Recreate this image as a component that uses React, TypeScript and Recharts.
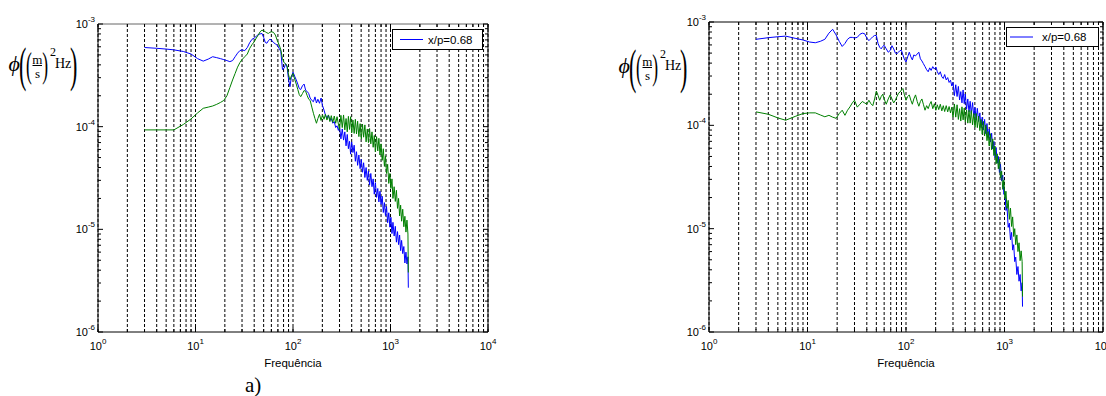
import React from 'react';
import { LineChart, Line, XAxis, YAxis, CartesianGrid } from 'recharts';

// Frequency grid (Hz), shared by both panels
const freq = [
  3, 4, 5, 6, 7.5, 9, 10.5, 12, 13.5, 15, 16.5, 18, 19.5, 21, 22.5, 24, 25.5, 27, 28.5, 30,
  32, 34, 36, 38, 40, 42, 44, 46, 48, 50, 52, 54, 56, 58, 60, 63, 66, 69, 72, 75,
  78, 81, 84, 87, 90, 93, 96, 100,
  104, 108, 112, 116, 120, 125, 130, 135, 140, 145, 150, 156, 162, 168, 174, 180, 187, 194, 201, 208,
  215, 223, 231, 239, 247, 256, 265, 274, 283, 292,
  300, 310, 320, 330, 340, 350, 360, 370, 380, 390, 400, 412, 424, 436, 448, 460, 474, 488, 502, 516,
  530, 546, 562, 578, 594, 610, 628, 646, 664, 682, 700, 720, 740, 760, 780, 800, 822, 844, 866, 888,
  910, 935, 960, 985, 1010, 1035, 1060, 1090, 1120, 1150, 1180, 1210, 1240, 1270, 1300, 1335, 1370, 1405, 1440, 1475,
  1510, 1524,
];

// Panel a) — blue series (x/p=0.68)
const blueA = [
  5.9e-4, 5.8e-4, 5.7e-4, 5.6e-4, 5.4e-4, 5.1e-4, 4.6e-4, 4.35e-4, 4.55e-4, 4.8e-4, 4.7e-4, 4.6e-4, 4.5e-4, 4.4e-4, 4.3e-4, 4.4e-4, 4.8e-4, 5.2e-4, 5.5e-4, 5.6e-4,
  5.5e-4, 5.9e-4, 6.6e-4, 7.1e-4, 7.3e-4, 7.6e-4, 7.9e-4, 8.0e-4, 8.1e-4, 7.4e-4, 6.6e-4, 6.5e-4, 6.9e-4, 7.1e-4, 7.0e-4, 6.6e-4, 6.4e-4, 6.2e-4, 5.8e-4, 5.4e-4,
  3.6e-4, 3.7e-4, 4.1e-4, 3.8e-4, 2.9e-4, 2.45e-4, 3.0e-4, 3.4e-4,
  3.1e-4, 2.85e-4, 2.6e-4, 2.35e-4, 2.3e-4, 2.5e-4, 2.6e-4, 2.25e-4, 2.2e-4, 2.1e-4, 1.9e-4, 1.8e-4, 1.75e-4, 1.95e-4, 1.7e-4, 1.85e-4, 1.69e-4, 1.9e-4, 1.6e-4, 1.45e-4,
  1.3e-4, 1.21e-4, 1.3e-4, 1.15e-4, 1.2e-4, 1.08e-4, 1.12e-4, 9.8e-5, 1.02e-4, 9.2e-5,
  1.01e-4, 7.6e-5, 9.5e-5, 7.4e-5, 8.9e-5, 6.5e-5, 8.4e-5, 6.1e-5, 7.2e-5, 5.4e-5, 7.1e-5, 5.6e-5, 6.6e-5, 4.6e-5, 5.7e-5, 4.2e-5, 5.3e-5, 3.9e-5, 4.8e-5, 3.6e-5,
  4.45e-5, 3.2e-5, 4.0e-5, 3.0e-5, 3.7e-5, 2.7e-5, 3.5e-5, 2.6e-5, 3.1e-5, 2.2e-5, 2.85e-5, 2.05e-5, 2.5e-5, 1.85e-5, 2.35e-5, 1.75e-5, 2.1e-5, 1.46e-5, 1.82e-5, 1.36e-5,
  1.67e-5, 1.16e-5, 1.45e-5, 1.05e-5, 1.31e-5, 9.1e-6, 1.17e-5, 8.6e-6, 1.07e-5, 7.5e-6, 9.5e-6, 7.1e-6, 8.8e-6, 6.2e-6, 7.8e-6, 5.8e-6, 6.8e-6, 4.7e-6, 6.0e-6, 4.6e-6,
  5.4e-6, 2.7e-6,
];

// Panel a) — green series
const greenA = [
  9.3e-5, 9.3e-5, 9.3e-5, 9.3e-5, 1.05e-4, 1.19e-4, 1.36e-4, 1.51e-4, 1.55e-4, 1.59e-4, 1.65e-4, 1.72e-4, 1.8e-4, 2.0e-4, 2.4e-4, 2.85e-4, 3.3e-4, 3.8e-4, 4.2e-4, 4.5e-4,
  4.8e-4, 5.1e-4, 5.8e-4, 6.3e-4, 6.7e-4, 7.3e-4, 7.8e-4, 8.4e-4, 8.7e-4, 8.6e-4, 8.4e-4, 8.2e-4, 8.1e-4, 8.3e-4, 8.4e-4, 8.3e-4, 7.8e-4, 6.9e-4, 6.3e-4, 5.6e-4,
  4.6e-4, 4.2e-4, 4.1e-4, 3.9e-4, 3.2e-4, 2.85e-4, 3.1e-4, 3.3e-4,
  2.9e-4, 2.6e-4, 2.3e-4, 2.05e-4, 1.96e-4, 2.1e-4, 2.25e-4, 2.2e-4, 2.0e-4, 1.85e-4, 1.8e-4, 1.55e-4, 1.35e-4, 1.2e-4, 1.08e-4, 1.2e-4, 1.32e-4, 1.15e-4, 1.3e-4, 1.18e-4,
  1.32e-4, 1.16e-4, 1.3e-4, 1.12e-4, 1.28e-4, 1.1e-4, 1.27e-4, 1.08e-4, 1.25e-4, 1.06e-4,
  9.4e-5, 1.29e-4, 9.8e-5, 1.3e-4, 9.3e-5, 1.2e-4, 8.9e-5, 1.26e-4, 9.4e-5, 1.25e-4, 8.7e-5, 1.16e-4, 8.6e-5, 1.18e-4, 8.5e-5, 1.13e-4, 8.0e-5, 1.07e-4, 7.6e-5, 1.06e-4,
  7.9e-5, 1.04e-4, 7.1e-5, 9.5e-5, 7.0e-5, 9.6e-5, 6.8e-5, 8.9e-5, 6.3e-5, 8.2e-5, 5.7e-5, 8.0e-5, 5.8e-5, 7.7e-5, 5.3e-5, 6.8e-5, 4.7e-5, 6.1e-5, 4.1e-5, 5.2e-5,
  3.5e-5, 4.3e-5, 2.8e-5, 3.5e-5, 2.5e-5, 3.1e-5, 2.0e-5, 2.6e-5, 1.87e-5, 2.4e-5, 1.6e-5, 2.0e-5, 1.35e-5, 1.72e-5, 1.2e-5, 1.57e-5, 1.06e-5, 1.34e-5, 9.4e-6, 1.23e-5,
  9.0e-6, 3.8e-6,
];

// Panel b) — blue series (x/p=0.68)
const blueB = [
  6.8e-4, 7.05e-4, 7.2e-4, 7.3e-4, 6.95e-4, 6.7e-4, 6.4e-4, 6.3e-4, 6.5e-4, 6.8e-4, 7.8e-4, 8.5e-4, 7.5e-4, 6.5e-4, 5.8e-4, 6.2e-4, 6.8e-4, 7.1e-4, 7.1e-4, 7.0e-4,
  7.1e-4, 7.6e-4, 7.8e-4, 7.7e-4, 7.0e-4, 6.6e-4, 6.9e-4, 7.2e-4, 7.4e-4, 7.4e-4, 6.2e-4, 5.7e-4, 5.5e-4, 5.8e-4, 5.95e-4, 5.5e-4, 5.1e-4, 5.3e-4, 5.9e-4, 5.5e-4,
  5.0e-4, 4.95e-4, 5.1e-4, 5.3e-4, 5.3e-4, 4.8e-4, 4.4e-4, 4.1e-4,
  4.6e-4, 5.1e-4, 4.6e-4, 4.3e-4, 4.8e-4, 4.7e-4, 4.9e-4, 5.1e-4, 4.4e-4, 4.2e-4, 3.96e-4, 3.7e-4, 3.45e-4, 3.3e-4, 3.6e-4, 3.4e-4, 3.7e-4, 3.5e-4, 3.67e-4, 3.3e-4,
  3.1e-4, 3.3e-4, 2.95e-4, 2.84e-4, 3.1e-4, 2.75e-4, 2.9e-4, 2.6e-4, 2.73e-4, 2.4e-4,
  2.6e-4, 1.94e-4, 2.47e-4, 1.9e-4, 2.38e-4, 1.76e-4, 2.12e-4, 1.65e-4, 2.2e-4, 1.62e-4, 2.01e-4, 1.43e-4, 1.8e-4, 1.35e-4, 1.71e-4, 1.3e-4, 1.66e-4, 1.2e-4, 1.49e-4, 1.12e-4,
  1.46e-4, 1.09e-4, 1.32e-4, 9.5e-5, 1.2e-4, 9.0e-5, 1.14e-4, 8.3e-5, 1.04e-4, 7.6e-5, 9.2e-5, 6.9e-5, 8.4e-5, 5.9e-5, 7.0e-5, 4.9e-5, 6.1e-5, 4.3e-5, 5.0e-5, 3.5e-5,
  4.2e-5, 2.9e-5, 3.3e-5, 2.15e-5, 2.3e-5, 1.5e-5, 1.65e-5, 1.03e-5, 1.13e-5, 7.8e-6, 9.2e-6, 6.2e-6, 7.0e-6, 4.8e-6, 5.3e-6, 3.6e-6, 4.3e-6, 3.1e-6, 3.6e-6, 2.5e-6,
  3.0e-6, 1.76e-6,
];

// Panel b) — green series
const greenB = [
  1.35e-4, 1.28e-4, 1.18e-4, 1.12e-4, 1.22e-4, 1.3e-4, 1.32e-4, 1.32e-4, 1.26e-4, 1.21e-4, 1.25e-4, 1.2e-4, 1.17e-4, 1.3e-4, 1.4e-4, 1.25e-4, 1.4e-4, 1.51e-4, 1.65e-4, 1.75e-4,
  1.5e-4, 1.6e-4, 1.7e-4, 1.65e-4, 1.6e-4, 1.75e-4, 1.62e-4, 1.55e-4, 1.8e-4, 2.15e-4, 1.95e-4, 1.75e-4, 1.9e-4, 2.0e-4, 1.8e-4, 1.6e-4, 1.8e-4, 1.97e-4, 1.8e-4, 1.65e-4,
  1.75e-4, 1.9e-4, 2.05e-4, 2.1e-4, 2.2e-4, 2.27e-4, 2.0e-4, 1.75e-4,
  1.9e-4, 1.97e-4, 1.75e-4, 1.6e-4, 1.8e-4, 1.97e-4, 1.7e-4, 1.53e-4, 1.7e-4, 1.8e-4, 1.6e-4, 1.4e-4, 1.55e-4, 1.45e-4, 1.6e-4, 1.7e-4, 1.45e-4, 1.62e-4, 1.4e-4, 1.58e-4,
  1.42e-4, 1.6e-4, 1.38e-4, 1.55e-4, 1.36e-4, 1.55e-4, 1.35e-4, 1.52e-4, 1.32e-4, 1.5e-4,
  1.2e-4, 1.61e-4, 1.2e-4, 1.58e-4, 1.14e-4, 1.45e-4, 1.1e-4, 1.51e-4, 1.13e-4, 1.47e-4, 1.08e-4, 1.41e-4, 1.05e-4, 1.4e-4, 1.05e-4, 1.39e-4, 1.01e-4, 1.3e-4, 9.6e-5, 1.3e-4,
  9.5e-5, 1.23e-4, 8.9e-5, 1.14e-4, 8.2e-5, 1.09e-4, 7.9e-5, 1.01e-4, 7.1e-5, 8.7e-5, 6.3e-5, 8.3e-5, 5.8e-5, 7.4e-5, 5.1e-5, 6.3e-5, 4.25e-5, 5.3e-5, 3.8e-5, 4.7e-5,
  3.1e-5, 3.6e-5, 2.4e-5, 2.95e-5, 1.95e-5, 2.3e-5, 1.57e-5, 1.88e-5, 1.23e-5, 1.58e-5, 1.05e-5, 1.3e-5, 8.4e-6, 1.0e-5, 7.0e-6, 8.7e-6, 6.0e-6, 7.3e-6, 4.9e-6, 6.1e-6,
  4.8e-6, 2.2e-6,
];

// Axis ticks (log decades with minor ticks)
const xTicks = [
  1, 2, 3, 4, 5, 6, 7, 8, 9,
  10, 20, 30, 40, 50, 60, 70, 80, 90,
  100, 200, 300, 400, 500, 600, 700, 800, 900,
  1000, 2000, 3000, 4000, 5000, 6000, 7000, 8000, 9000,
  10000,
];
const yTicks = [
  1e-6, 2e-6, 3e-6, 4e-6, 5e-6, 6e-6, 7e-6, 8e-6, 9e-6,
  1e-5, 2e-5, 3e-5, 4e-5, 5e-5, 6e-5, 7e-5, 8e-5, 9e-5,
  1e-4, 2e-4, 3e-4, 4e-4, 5e-4, 6e-4, 7e-4, 8e-4, 9e-4,
  1e-3,
];
const xLabel = 'Frequência';
const legendLabel = 'x/p=0.68';
const panelLabel = 'a)';

const BLUE = '#0000ff';
const GREEN = '#008000';
const SANS = '"Liberation Sans", Arial, Helvetica, sans-serif';
const SERIF = '"Liberation Serif", "Times New Roman", serif';

const expOf = (v: number) => Math.round(Math.log10(v));
const isDecade = (v: number) => Math.abs(Math.log10(v) - expOf(v)) < 1e-6;

const BottomTick = (props: any) => {
  const { x, y, payload } = props;
  const v = payload.value;
  const major = isDecade(v);
  return (
    <g>
      <line x1={x} y1={y} x2={x} y2={y - (major ? 5 : 3)} stroke="#000" />
      {major && (
        <text x={x} y={y + 18} textAnchor="middle" fontFamily={SANS} fontSize={11} fill="#000">
          <tspan>10</tspan>
          <tspan dy={-6.5} fontSize={8}>{String(expOf(v))}</tspan>
        </text>
      )}
    </g>
  );
};

const TopTick = (props: any) => {
  const { x, y, payload } = props;
  const major = isDecade(payload.value);
  return <line x1={x} y1={y} x2={x} y2={y + (major ? 5 : 3)} stroke="#000" />;
};

const LeftTick = (props: any) => {
  const { x, y, payload } = props;
  const v = payload.value;
  const major = isDecade(v);
  return (
    <g>
      <line x1={x} y1={y} x2={x + (major ? 5 : 3)} y2={y} stroke="#000" />
      {major && (
        <text x={x - 3} y={y + 4} textAnchor="end" fontFamily={SANS} fontSize={11} fill="#000">
          <tspan>10</tspan>
          <tspan dy={-6} fontSize={8}>{String(expOf(v))}</tspan>
        </text>
      )}
    </g>
  );
};

const RightTick = (props: any) => {
  const { x, y, payload } = props;
  const major = isDecade(payload.value);
  return <line x1={x} y1={y} x2={x - (major ? 5 : 3)} y2={y} stroke="#000" />;
};

type PanelProps = {
  left: number;
  margin: { top: number; right: number; bottom: number; left: number };
  blue: number[];
  green: number[];
  topStroke: string;
};

const Panel = ({ left, margin, blue, green, topStroke }: PanelProps) => {
  const data = freq.map((f, i) => ({ f, blue: blue[i], green: green[i] }));
  return (
    <div style={{ position: 'absolute', left, top: 0 }}>
      <LineChart width={500} height={396} data={data} margin={margin}>
        <CartesianGrid horizontal={false} vertical stroke="#000" strokeDasharray="3 2" />
        <XAxis
          dataKey="f"
          type="number"
          scale="log"
          domain={[1, 10000]}
          allowDataOverflow
          ticks={xTicks}
          interval={0}
          height={30}
          tickSize={0}
          tickMargin={0}
          tickLine={false}
          stroke="#000"
          tick={<BottomTick />}
        />
        <XAxis
          xAxisId="top"
          orientation="top"
          dataKey="f"
          type="number"
          scale="log"
          domain={[1, 10000]}
          allowDataOverflow
          ticks={xTicks}
          interval={0}
          height={1}
          tickSize={0}
          tickMargin={0}
          tickLine={false}
          stroke={topStroke}
          tick={<TopTick />}
        />
        <YAxis
          type="number"
          scale="log"
          domain={[1e-6, 1e-3]}
          allowDataOverflow
          ticks={yTicks}
          interval={0}
          width={40}
          tickSize={0}
          tickMargin={0}
          tickLine={false}
          stroke="#000"
          tick={<LeftTick />}
        />
        <YAxis
          yAxisId="right"
          orientation="right"
          type="number"
          scale="log"
          domain={[1e-6, 1e-3]}
          allowDataOverflow
          ticks={yTicks}
          interval={0}
          width={1}
          tickSize={0}
          tickMargin={0}
          tickLine={false}
          stroke="#000"
          tick={<RightTick />}
        />
        <Line dataKey="blue" stroke={BLUE} strokeWidth={1} dot={false} isAnimationActive={false} type="linear" />
        <Line dataKey="green" stroke={GREEN} strokeWidth={1} dot={false} isAnimationActive={false} type="linear" legendType="none" />
      </LineChart>
    </div>
  );
};

const YLabel = ({ dx, dy }: { dx: number; dy: number }) => (
  <g transform={`translate(${dx},${dy})`} fontFamily={SERIF} fill="#000">
    <text x={8.5} y={71} fontSize={22} fontStyle="italic">ϕ</text>
    <text transform="translate(19,81) scale(0.45,1)" fontSize={49}>(</text>
    <text transform="translate(26,77) scale(0.5,1)" fontSize={35}>(</text>
    <text x={37.2} y={63.5} fontSize={13} textAnchor="middle">m</text>
    <line x1={32.5} x2={42} y1={65.5} y2={65.5} stroke="#000" strokeWidth={1} />
    <text x={37.5} y={78} fontSize={13} textAnchor="middle">s</text>
    <text transform="translate(42.2,77) scale(0.5,1)" fontSize={35}>)</text>
    <text x={50} y={55.5} fontSize={12}>2</text>
    <text x={55} y={68} fontSize={14}>Hz</text>
    <text transform="translate(70,81) scale(0.45,1)" fontSize={49}>)</text>
  </g>
);

const LegendBox = ({ x, y, w, h, lx1, lx2, tx }: { x: number; y: number; w: number; h: number; lx1: number; lx2: number; tx: number }) => (
  <g>
    <rect x={x} y={y} width={w} height={h} fill="#fff" stroke="#000" strokeWidth={1} />
    <line x1={lx1} x2={lx2} y1={y + h / 2} y2={y + h / 2} stroke={BLUE} strokeWidth={1} />
    <text x={tx} y={y + h / 2 + 4} fontFamily={SANS} fontSize={11.5} fill="#000">{legendLabel}</text>
  </g>
);

export default function App() {
  return (
    <div style={{ position: 'absolute', left: 0, top: 0, width: 1106, height: 396, background: '#fff', overflow: 'hidden' }}>
      <Panel left={0} margin={{ top: 23, right: 11, bottom: 34, left: 58 }} blue={blueA} green={greenA} topStroke="#666" />
      <Panel left={606} margin={{ top: 21, right: 2, bottom: 34, left: 63 }} blue={blueB} green={greenB} topStroke="#000" />
      <svg width={1106} height={396} style={{ position: 'absolute', left: 0, top: 0, pointerEvents: 'none' }}>
        <YLabel dx={0} dy={0} />
        <YLabel dx={610} dy={2} />
        <text x={293} y={366.5} textAnchor="middle" fontFamily={SANS} fontSize={11.5} fill="#000">{xLabel}</text>
        <text x={906} y={367} textAnchor="middle" fontFamily={SANS} fontSize={11.5} fill="#000">{xLabel}</text>
        <LegendBox x={392.5} y={29.5} w={90} h={20} lx1={400} lx2={423} tx={428} />
        <LegendBox x={1006.5} y={27.5} w={92} h={19} lx1={1010} lx2={1033} tx={1042} />
        <text x={245} y={392} fontFamily={SERIF} fontSize={21} fill="#000">{panelLabel}</text>
      </svg>
    </div>
  );
}
